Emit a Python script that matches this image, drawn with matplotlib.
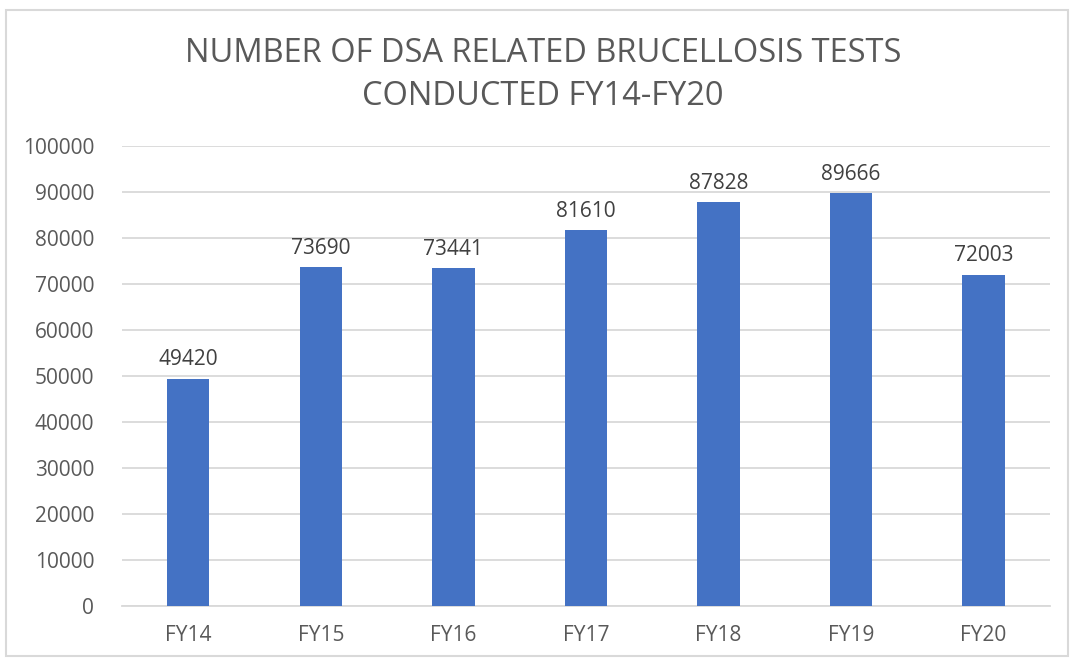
import matplotlib

matplotlib.use("Agg")
import matplotlib.pyplot as plt  # noqa: E402
from matplotlib.patches import Rectangle  # noqa: E402

# --- data ---------------------------------------------------------------
years = ["FY14", "FY15", "FY16", "FY17", "FY18", "FY19", "FY20"]
tests = [49420, 73690, 73441, 81610, 87828, 89666, 72003]
y_ticks = list(range(0, 100001, 10000))

plt.rcParams["font.family"] = ["Open Sans", "DejaVu Sans"]

fig = plt.figure(figsize=(10.7, 6.6), dpi=100)
ax = fig.add_axes([0.114, 0.082, 0.867, 0.697])

# рамка вокруг всей диаграммы
fig.patches.append(Rectangle((6 / 1070, 4 / 660), 1 - 8 / 1070, 1 - 14 / 660,
                             transform=fig.transFigure, fill=False,
                             edgecolor="#d9d9d9", linewidth=1.5))

x = range(len(years))
bars = ax.bar(x, tests, width=0.32, color="#4472c4", zorder=3)
for rect, val in zip(bars, tests):
    ax.annotate(f"{val}", (rect.get_x() + rect.get_width() / 2, val),
                xytext=(0, 6), textcoords="offset points",
                ha="center", va="bottom", fontsize=15, color="#404040")

ax.set_xlim(-0.5, len(years) - 0.5)
ax.set_ylim(0, 100000)
ax.set_yticks(y_ticks)
ax.set_yticklabels([str(t) for t in y_ticks])
ax.set_xticks(list(x))
ax.set_xticklabels(years)
ax.tick_params(axis="both", length=0, labelsize=15, labelcolor="#595959")
ax.tick_params(axis="y", pad=20)
ax.tick_params(axis="x", pad=14)
ax.grid(axis="y", color="#d9d9d9", linewidth=1.3, zorder=0)
for side in ["top", "right", "left"]:
    ax.spines[side].set_visible(False)
ax.spines["bottom"].set_color("#d9d9d9")
ax.spines["bottom"].set_linewidth(1.3)

fig.text(0.5075, 0.886, "NUMBER OF DSA RELATED BRUCELLOSIS TESTS\nCONDUCTED FY14-FY20",
         ha="center", va="center", fontsize=23.5, color="#595959",
         linespacing=1.4)

fig.savefig("out.png", dpi=100)
plt.close(fig)
